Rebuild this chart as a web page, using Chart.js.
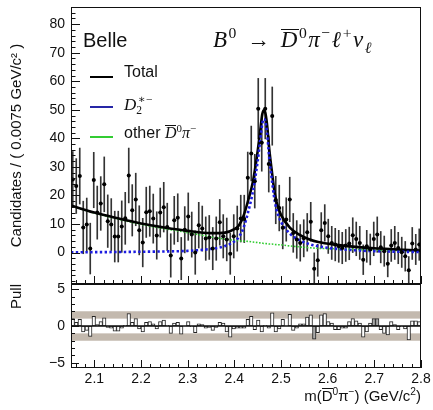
<!DOCTYPE html>
<html>
<head>
<meta charset="utf-8">
<script src="https://cdn.jsdelivr.net/npm/chart.js@4/dist/chart.umd.min.js"></script>
<style>
  html, body { margin: 0; padding: 0; background: #fff; }
  #wrap { position: relative; width: 433px; height: 410px; overflow: hidden;
          font-family: 'Liberation Sans', Arial, sans-serif; color: #111; }
  canvas { position: absolute; left: 0; }
  #mainChart { top: 0; }
  #pullChart { top: 277px; }
  .txt { position: absolute; white-space: nowrap; line-height: 1; }
  .math { font-family: 'Liberation Serif', 'DejaVu Serif', serif; }
  .ol { display: inline-block; border-top: 1px solid #111; line-height: 0.78; padding-top: 1px; }
  sup, sub { font-size: 0.68em; line-height: 0; }
  .rel { margin: 0 0.4em; }
  .leg { position: absolute; left: 90px; width: 23px; height: 2.5px; }
</style>
</head>
<body>
<div id="wrap">
  <canvas id="mainChart" width="433" height="290"></canvas>
  <canvas id="pullChart" width="433" height="133"></canvas>

  <div class="txt" style="left:83px; top:30px; font-size:20px;">Belle</div>
  <div class="txt math" style="left:213px; top:28px; font-size:23px; letter-spacing:1.5px;"><i>B</i><sup>0</sup><span class="rel">→</span><i class="ol">D</i><sup>0</sup><i>π</i><sup>−</sup><i>ℓ</i><sup>+</sup><i>ν</i><sub><i>ℓ</i></sub></div>

  <div class="leg" style="top:75.5px; background:#000;"></div>
  <div class="txt" style="left:124px; top:64px; font-size:16px;">Total</div>
  <div class="leg" style="top:105.5px; background:#2626a6;"></div>
  <div class="txt math" style="left:124px; top:96px; font-size:17px;"><i>D</i><sub style="vertical-align:-0.35em">2</sub><sup style="margin-left:-0.35em">∗−</sup></div>
  <div class="leg" style="top:135.5px; background:#33cc33;"></div>
  <div class="txt" style="left:124px; top:125px; font-size:16px;">other <span class="math"><i class="ol">D</i><sup>0</sup><i>π</i><sup>−</sup></span></div>

  <div class="txt" style="right:12px; top:388px; font-size:15px;">m(<span class="ol">D</span><sup>0</sup>π<sup>−</sup>) (GeV/c<sup>2</sup>)</div>
</div>

<script>
// binning of the m(D0bar pi-) histogram
const binLow = 2.05;
const binWidth = 0.0075;

// candidates per bin (100 bins) and their uncertainties
const candidates = [
  25.6, 23.3, 26.8, 8.8, 9.8, 1.4, 25.4, 14.0, 17.2, 23.9,
  11.0, 9.8, 5.6, 5.6, 9.1, 12.0, 27.0, 14.8, 18.6, 7.8,
  3.5, 14.1, 14.5, 11.9, 6.0, 14.0, 15.9, 9.0, -1.0, 11.3,
  12.2, -2.1, 8.0, 12.6, 6.3, 0.0, 9.6, 8.4, 4.9, 5.3,
  1.4, 4.9, 10.6, 5.7, 4.6, -0.4, 5.7, 8.4, 11.9, 11.8,
  26.2, 34.7, 25.0, 50.4, 38.5, 50.4, 31.0, 47.8, 18.4, 15.6,
  8.7, 11.6, 18.6, 6.9, 4.6, 3.4, 5.0, 7.1, 10.8, -5.7,
  -2.7, 7.8, 10.4, 5.7, 3.4, 2.8, 2.2, 1.6, 2.5, 3.2,
  6.1, 4.8, 3.4, -2.5, 2.2, 1.1, 4.8, 6.3, 1.9, 0.5,
  -3.9, 2.5, 3.4, 1.6, 0.1, -1.3, -6.2, 3.2, 1.1, 2.8
];
const candErr = [
  9.8, 9.6, 9.8, 9.2, 9.3, 8.9, 9.7, 9.3, 9.4, 9.6,
  9.2, 9.1, 8.9, 8.9, 9.0, 9.1, 9.6, 9.0, 9.2, 8.6,
  8.5, 8.8, 8.8, 8.6, 8.3, 8.6, 8.7, 8.3, 7.6, 8.4,
  8.4, 7.4, 8.1, 8.3, 7.9, 7.6, 8.0, 7.9, 7.6, 7.7,
  7.4, 7.6, 8.0, 7.6, 7.5, 7.2, 7.6, 7.9, 8.2, 8.3,
  9.0, 9.6, 9.4, 10.6, 10.0, 10.6, 9.8, 10.2, 8.3, 8.0,
  7.4, 7.6, 7.8, 6.8, 6.6, 6.4, 6.5, 6.6, 6.8, 5.6,
  5.6, 6.2, 6.4, 6.0, 5.8, 5.7, 5.6, 5.5, 5.6, 5.7,
  6.1, 5.9, 5.8, 5.2, 5.6, 5.4, 5.9, 6.2, 5.5, 5.3,
  4.6, 5.6, 5.8, 5.5, 5.3, 5.2, 4.8, 5.6, 5.3, 5.5
];

// pull per bin
const pulls = [
  1.0, 0.5, 0.9, -0.8, -0.6, -1.4, 1.3, 0.2, 0.6, 1.1,
  -0.2, -0.3, -0.7, -0.7, -0.3, 0.1, 1.7, 0.5, 1.0, -0.4,
  -0.8, 0.5, 0.6, 0.3, -0.4, 0.6, 0.8, 0.1, -1.0, 0.4,
  0.5, -1.1, 0.0, 0.6, -0.1, -0.9, 0.3, 0.2, -0.3, -0.2,
  -0.6, -0.2, 0.5, 0.4, -0.8, -1.5, -0.4, -0.3, -0.3, -0.3,
  0.9, 1.3, -0.5, 0.8, -0.8, 0.1, -0.3, 1.8, -0.8, -0.4,
  0.9, 0.0, 1.6, -0.6, -0.3, 0.3, 0.3, 1.2, 1.5, -1.8,
  -0.9, 1.5, 1.7, 0.6, 0.4, -0.5, -0.5, -0.3, -0.3, 0.6,
  1.0, 0.7, 0.4, -1.5, -0.8, 0.4, 1.0, 1.0, -0.5, -1.0,
  -1.2, 0.6, 0.2, -0.5, -0.1, -0.4, -1.9, 0.7, 0.7, 0.6
];
const shadedPullBins = [69, 86, 87];
const pullBands = [1, 2];

// fit curves sampled along the mass axis
const fitMass = [2.05, 2.10, 2.15, 2.20, 2.25, 2.30, 2.35, 2.38, 2.40, 2.41, 2.42, 2.43,
  2.44, 2.45, 2.455, 2.46, 2.463, 2.466, 2.47, 2.475, 2.48, 2.485, 2.49, 2.50,
  2.52, 2.54, 2.56, 2.58, 2.62, 2.66, 2.70, 2.75, 2.80];
const totalFit = [16.5, 14.0, 12.0, 10.2, 8.8, 7.6, 6.8, 7.0, 8.2, 9.6, 13.0, 18.5,
  25.0, 35.5, 42.0, 48.5, 49.8, 49.2, 45.0, 36.0, 29.0, 22.5, 18.0, 13.2,
  8.6, 6.2, 4.7, 3.7, 2.7, 2.0, 1.5, 1.1, 0.7];
const d2Fit = [0.1, 0.15, 0.2, 0.3, 0.4, 0.6, 1.3, 2.3, 3.9, 5.5, 8.8, 14.5,
  21.5, 32.0, 38.7, 45.2, 46.8, 46.3, 42.0, 33.0, 26.0, 19.7, 15.3, 10.8,
  6.5, 4.3, 3.0, 2.2, 1.3, 0.8, 0.5, 0.3, 0.2];
const otherFit = [16.4, 13.85, 11.8, 9.9, 8.4, 7.0, 5.5, 4.7, 4.3, 4.1, 4.0, 3.9,
  3.7, 3.5, 3.4, 3.3, 3.2, 3.2, 3.1, 3.0, 3.0, 2.9, 2.8, 2.7,
  2.3, 2.0, 1.7, 1.5, 1.3, 1.1, 0.9, 0.7, 0.5];

// tick labels
const massTicks = [2.1, 2.2, 2.3, 2.4, 2.5, 2.6, 2.7, 2.8];
const candTicks = [0, 10, 20, 30, 40, 50, 60, 70, 80];
const pullTicks = [-5, 0, 5];

Chart.defaults.font.family = "'Liberation Sans', Arial, sans-serif";
Chart.defaults.color = '#111';

const centers = candidates.map((_, i) => +(binLow + binWidth * (i + 0.5)).toFixed(5));
const massMinor = [];
for (let v = 2.06; v < 2.8; v += 0.02) massMinor.push(+v.toFixed(2));
const candMinor = [];
for (let v = -10; v <= 86; v += 2) candMinor.push(v);
const pullMinor = [];
for (let v = -5; v <= 5; v += 1) pullMinor.push(v);

// keep the plot frame where the original has it
const fixY = s => { s.width = 71; s.paddingTop = 0; s.paddingBottom = 0; };
const fixX = s => { s.height = 42; s.paddingLeft = 0; s.paddingRight = 0; };
const noGrid = { display: false, drawTicks: false, tickLength: 0 };

const frameTicks = {
  id: 'frameTicks',
  afterDatasetsDraw(chart, args, o) {
    const { ctx, chartArea: a, scales: { x, y } } = chart;
    ctx.save();
    ctx.strokeStyle = '#111';
    ctx.lineWidth = 1;
    ctx.beginPath();
    const xt = (vals, len) => vals.forEach(v => {
      const p = Math.round(x.getPixelForValue(v)) + 0.5;
      ctx.moveTo(p, a.bottom); ctx.lineTo(p, a.bottom - len);
    });
    const yt = (vals, len) => vals.forEach(v => {
      const p = y.getPixelForValue(v);
      if (p < a.top || p > a.bottom) return;
      const q = Math.round(p) + 0.5;
      ctx.moveTo(a.left, q); ctx.lineTo(a.left + len, q);
    });
    xt(o.xMajor, o.xLen); xt(o.xMinor, o.xLen / 2);
    yt(o.yMajor, o.yLen); yt(o.yMinor, o.yLen / 2);
    ctx.stroke();
    ctx.strokeRect(a.left + 0.5, a.top + 0.5, a.right - a.left - 1, a.bottom - a.top - 1);
    ctx.restore();
  }
};

const pullDecor = {
  id: 'pullDecor',
  beforeDatasetsDraw(chart) {
    const { ctx, chartArea: a, scales: { y } } = chart;
    ctx.save();
    ctx.fillStyle = '#c3b9ae';
    [1, -1].forEach(s => {
      const y1 = y.getPixelForValue(s * pullBands[0]);
      const y2 = y.getPixelForValue(s * pullBands[1]);
      ctx.fillRect(a.left, Math.min(y1, y2), a.right - a.left, Math.abs(y2 - y1));
    });
    ctx.restore();
  },
  afterDatasetsDraw(chart) {
    const { ctx, chartArea: a, scales: { y } } = chart;
    const p = y.getPixelForValue(0);
    ctx.save();
    ctx.strokeStyle = '#111';
    ctx.lineWidth = 1.5;
    ctx.beginPath();
    ctx.moveTo(a.left, p); ctx.lineTo(a.right, p);
    ctx.stroke();
    ctx.restore();
  }
};

const curve = (vals) => fitMass.map((x, i) => ({ x, y: vals[i] }));

new Chart(document.getElementById('mainChart'), {
  type: 'scatter',
  data: {
    datasets: [
      {
        type: 'bar',
        data: centers.map((x, i) => ({ x, y: [candidates[i] - candErr[i], candidates[i] + candErr[i]] })),
        backgroundColor: '#333',
        barThickness: 1,
        order: 6
      },
      {
        type: 'line', data: curve(otherFit), borderColor: '#2fcc2f', borderWidth: 1.6,
        borderDash: [1.6, 1.6], pointRadius: 0, cubicInterpolationMode: 'monotone', order: 4
      },
      {
        type: 'line', data: curve(totalFit), borderColor: '#000', borderWidth: 2.6,
        pointRadius: 0, cubicInterpolationMode: 'monotone', order: 3
      },
      {
        type: 'line', data: curve(d2Fit), borderColor: '#1c1ce0', borderWidth: 2.6,
        borderDash: [2.4, 2.4], pointRadius: 0, cubicInterpolationMode: 'monotone', order: 2
      },
      {
        data: centers.map((x, i) => ({ x, y: candidates[i] })),
        pointStyle: 'line', pointRadius: 1.75, borderColor: '#222', borderWidth: 1, order: 1
      },
      {
        data: centers.map((x, i) => ({ x, y: candidates[i] })),
        pointStyle: 'circle', pointRadius: 2, backgroundColor: '#000', borderWidth: 0, order: 0
      }
    ]
  },
  options: {
    responsive: false,
    animation: false,
    events: [],
    layout: { padding: { top: 7, bottom: 6, right: 12, left: 0 } },
    plugins: {
      legend: { display: false },
      tooltip: { enabled: false },
      frameTicks: { xMajor: massTicks, xMinor: massMinor, xLen: 8, yMajor: candTicks, yMinor: candMinor, yLen: 9 }
    },
    scales: {
      x: { type: 'linear', display: false, min: binLow, max: 2.8, offset: false },
      y: {
        type: 'linear', min: -11, max: 86,
        afterBuildTicks: s => { s.ticks = candTicks.map(v => ({ value: v })); },
        afterFit: fixY,
        grid: noGrid,
        border: { display: false },
        ticks: { padding: 6, font: { size: 14 }, color: '#111' },
        title: {
          display: true, text: 'Candidates / ( 0.0075 GeV/c² )',
          font: { size: 15 }, color: '#111', padding: { top: 8, bottom: 0 }
        }
      }
    }
  },
  plugins: [frameTicks]
});

new Chart(document.getElementById('pullChart'), {
  type: 'bar',
  data: {
    datasets: [{
      data: centers.map((x, i) => ({ x, y: pulls[i] })),
      backgroundColor: pulls.map((_, i) => shadedPullBins.includes(i) ? '#a9a9a9' : '#fff'),
      borderColor: '#222',
      borderWidth: 1,
      borderSkipped: false,
      barPercentage: 1,
      categoryPercentage: 1
    }]
  },
  options: {
    responsive: false,
    animation: false,
    events: [],
    layout: { padding: { top: 7, bottom: 0, right: 12, left: 0 } },
    plugins: {
      legend: { display: false },
      tooltip: { enabled: false },
      frameTicks: { xMajor: massTicks, xMinor: massMinor, xLen: 8, yMajor: pullTicks, yMinor: pullMinor, yLen: 8 }
    },
    scales: {
      x: {
        type: 'linear', min: binLow, max: 2.8, offset: false,
        afterBuildTicks: s => { s.ticks = massTicks.map(v => ({ value: v })); },
        afterFit: fixX,
        grid: noGrid,
        border: { display: false },
        ticks: { padding: 3, font: { size: 14 }, color: '#111', maxRotation: 0, autoSkip: false,
                 callback: v => v.toFixed(1) }
      },
      y: {
        type: 'linear', min: -5.7, max: 5.7,
        afterBuildTicks: s => { s.ticks = pullTicks.map(v => ({ value: v })); },
        afterFit: fixY,
        grid: noGrid,
        border: { display: false },
        ticks: { padding: 6, font: { size: 14 }, color: '#111',
                 callback: v => v < 0 ? '\u2212' + Math.abs(v) : String(v) },
        title: {
          display: true, text: 'Pull', align: 'end',
          font: { size: 15 }, color: '#111', padding: { top: 8, bottom: 0 }
        }
      }
    }
  },
  plugins: [pullDecor, frameTicks]
});
</script>
</body>
</html>
